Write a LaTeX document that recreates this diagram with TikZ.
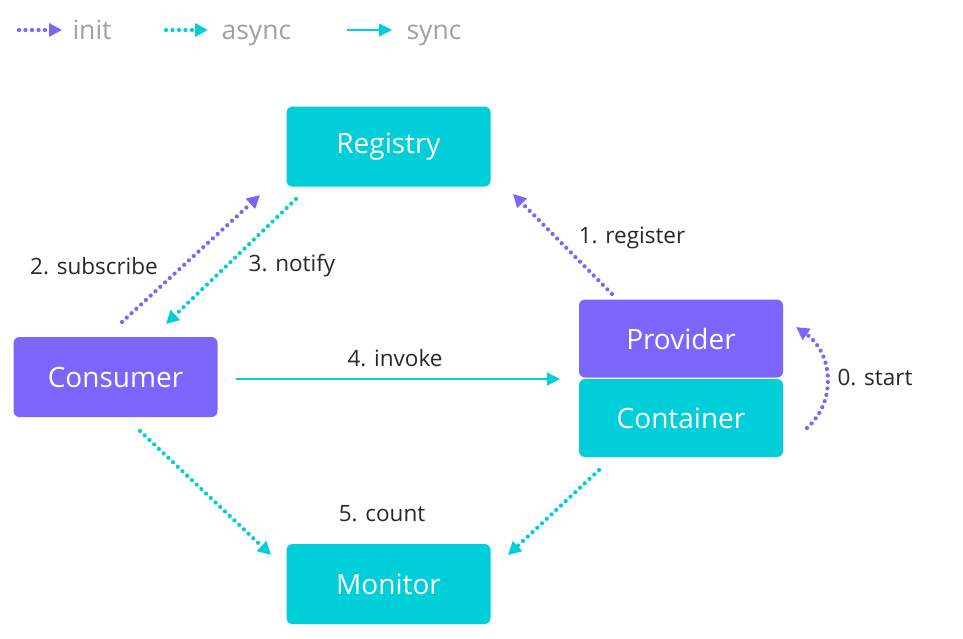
\documentclass[tikz,border=0pt]{standalone}
\usepackage{fontspec}
\setmainfont{Open Sans}
\usetikzlibrary{arrows.meta}
\definecolor{cyanbox}{RGB}{0,206,217}
\definecolor{purplebox}{RGB}{122,102,250}
\definecolor{labelgray}{RGB}{160,160,165}
\definecolor{labeltext}{RGB}{40,40,40}
\begin{document}
\begin{tikzpicture}[x=1pt,y=-1pt,
  box/.style={rounded corners=6pt,minimum width=204pt,minimum height=80pt,
    inner sep=0pt,text=white,font=\fontsize{28}{32}\selectfont},
  cbox/.style={box,fill=cyanbox},
  pbox/.style={box,fill=purplebox},
  lbl/.style={text=labeltext,font=\fontsize{22.5}{26}\selectfont},
  legtext/.style={text=labelgray,font=\fontsize{26.5}{30}\selectfont,anchor=base west},
  tip/.style={-{Triangle[length=13pt,width=13pt]}},
  dots/.style={line width=4.2pt,line cap=round,dash pattern=on 0pt off 6.5pt,tip},
  initarr/.style={dots,draw=purplebox},
  asyncarr/.style={dots,draw=cyanbox},
  syncarr/.style={draw=cyanbox,line width=1.4pt,tip}]
\useasboundingbox[fill=white] (0,0) rectangle (963,638);

% legend
\coordinate (li1) at (19,30); \coordinate (li2) at (62,30);
\coordinate (la1) at (166,30); \coordinate (la2) at (208,30);
\coordinate (ls1) at (347,30); \coordinate (ls2) at (392,30);
\draw[initarr] (li1) -- (li2);
\draw[asyncarr] (la1) -- (la2);
\draw[syncarr] (ls1) -- (ls2);
\node[legtext] (linit) at (69,39) {init};
\node[legtext] (lasync) at (218,39) {async};
\node[legtext] (lsync) at (403,39) {sync};

% components
\node[cbox] (registry) at (388.5,146.5) {Registry};
\node[pbox] (consumer) at (115.5,377) {Consumer};
\node[pbox,minimum height=78pt] (provider) at (681,338.5) {Provider};
\node[cbox,minimum height=78pt] (container) at (681,418) {Container};
\node[cbox] (monitor) at (388.5,584) {Monitor};

% end points of the connectors
\coordinate (sub1) at (122,322); \coordinate (sub2) at (260,195);
\coordinate (not1) at (296,199); \coordinate (not2) at (166,324);
\coordinate (reg1) at (612,294); \coordinate (reg2) at (513,194);
\coordinate (inv1) at (236,379); \coordinate (inv2) at (560,379);
\coordinate (st1) at (807,428); \coordinate (st2) at (796,327);
\coordinate (cm1) at (140,431); \coordinate (cm2) at (271,555);
\coordinate (pm1) at (599,470); \coordinate (pm2) at (508,555);

\draw[initarr] (sub1) -- (sub2);
\draw[asyncarr] (not1) -- (not2);
\draw[initarr] (reg1) -- (reg2);
\draw[syncarr] (inv1) -- (inv2);
\draw[initarr] (st1) .. controls (838,400) and (832,352) .. (st2);
\draw[asyncarr] (cm1) -- (cm2);
\draw[asyncarr] (pm1) -- (pm2);

% labels
\node[lbl] (t2) at (94,266) {2. subscribe};
\node[lbl] (t3) at (292,266) {3. notify};
\node[lbl] (t1) at (632,238) {1. register};
\node[lbl] (t4) at (395,358) {4. invoke};
\node[lbl] (t0) at (875,377) {0. start};
\node[lbl] (t5) at (382,514) {5. count};
\end{tikzpicture}
\end{document}
